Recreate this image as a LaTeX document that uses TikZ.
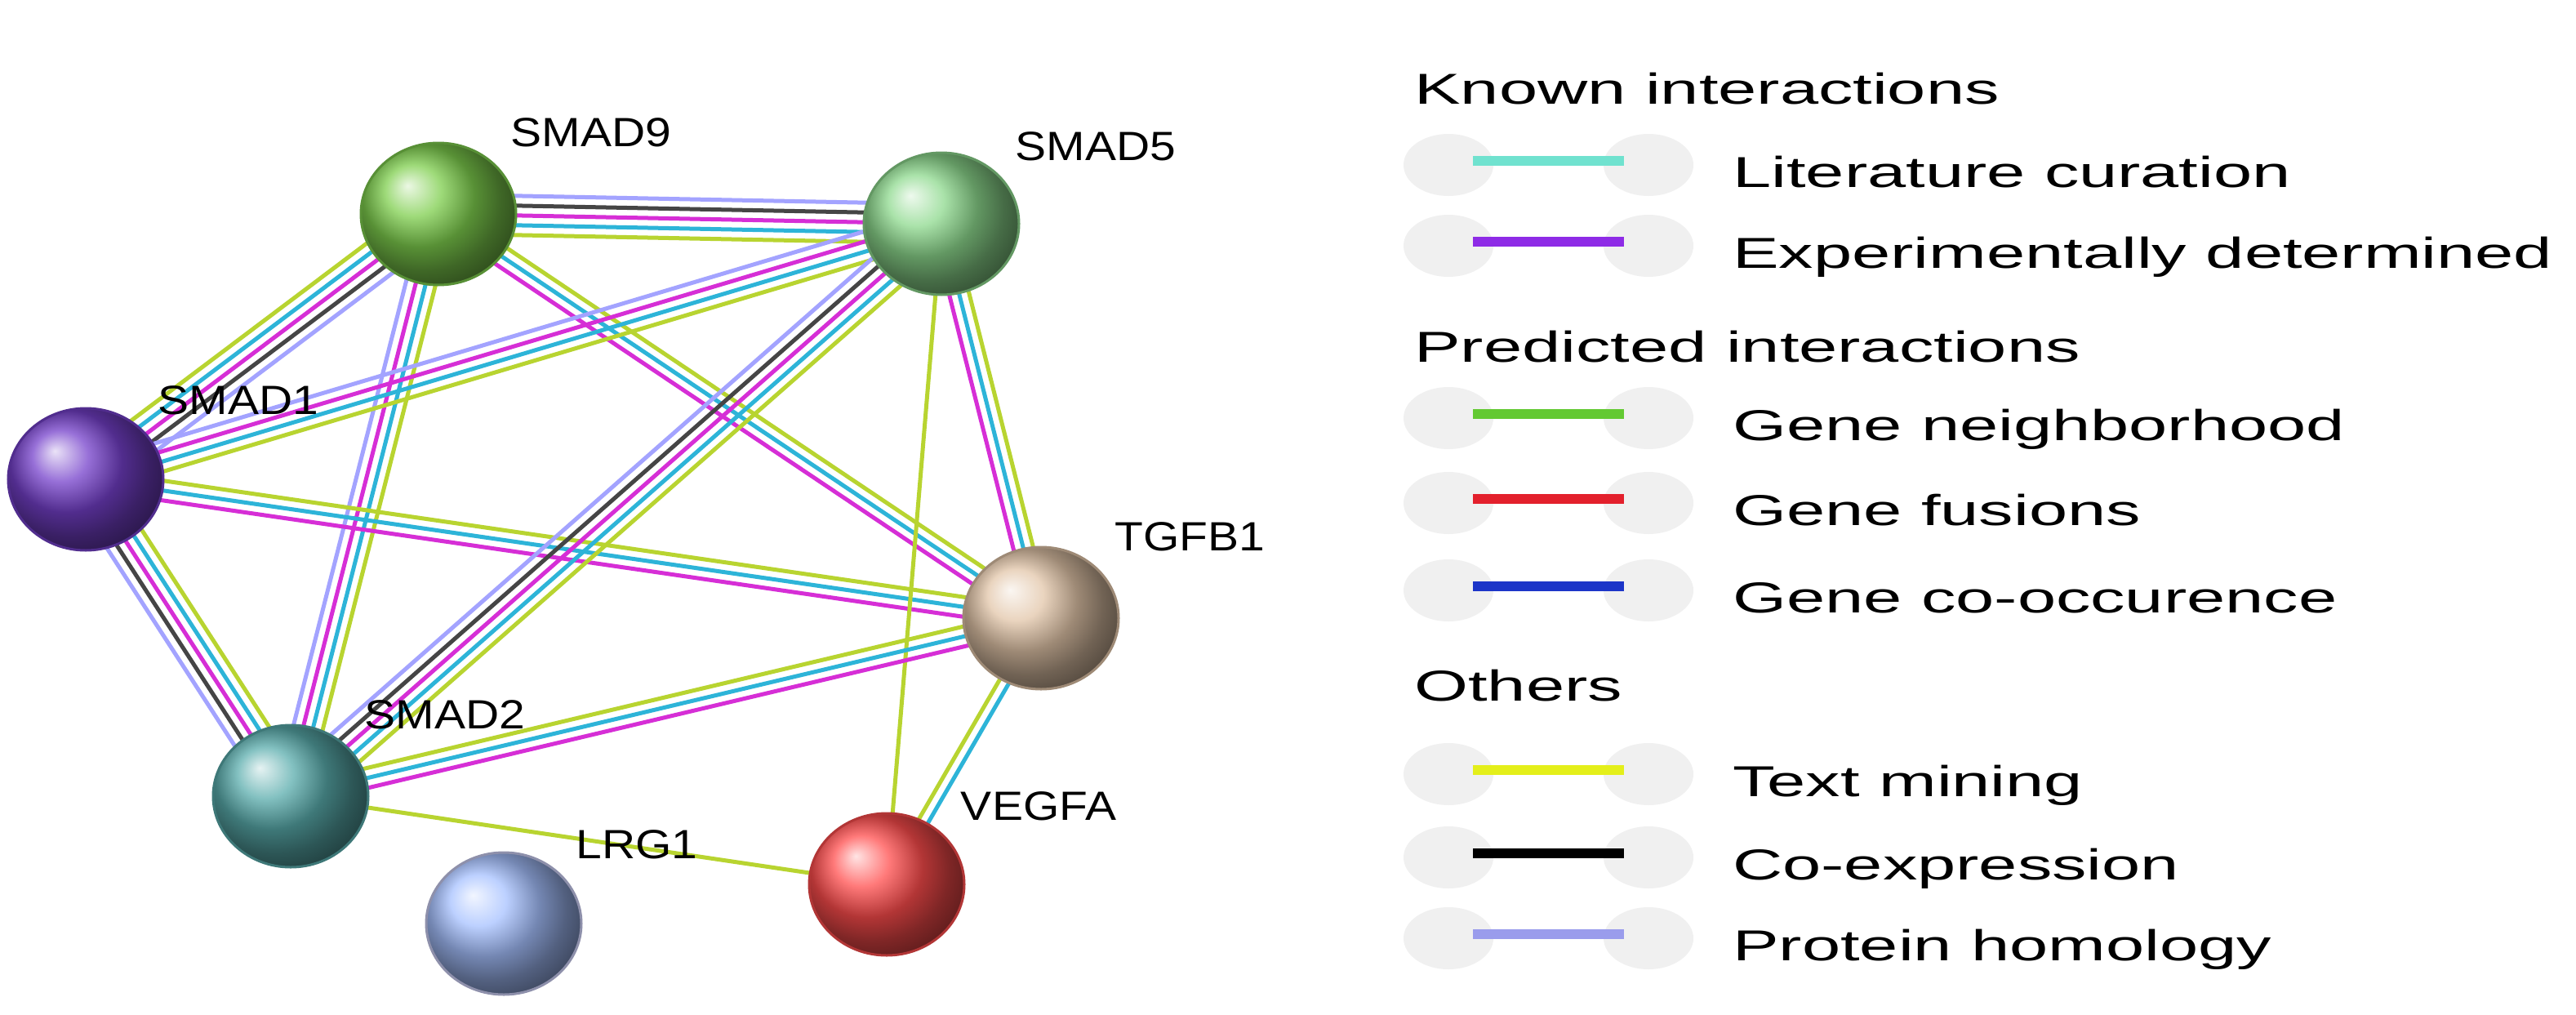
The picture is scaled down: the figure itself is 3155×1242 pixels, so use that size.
\documentclass[tikz,border=0pt]{standalone}
\usepackage{fontspec}
\setmainfont{Liberation Sans}
\usetikzlibrary{calc,shapes.geometric}
\definecolor{cyg}{HTML}{B8D430}
\definecolor{ccy}{HTML}{2DB4D8}
\definecolor{cmg}{HTML}{D62ED6}
\definecolor{cbk}{HTML}{454545}
\definecolor{clv}{HTML}{A3A3FF}
\definecolor{lgLit}{HTML}{70E2CF}
\definecolor{lgExp}{HTML}{8E2BE6}
\definecolor{lgNei}{HTML}{63C932}
\definecolor{lgFus}{HTML}{E3202C}
\definecolor{lgCoo}{HTML}{1C35C8}
\definecolor{lgTxt}{HTML}{E4EF1A}
\definecolor{lgCex}{HTML}{000000}
\definecolor{lgHom}{HTML}{9A9CEC}
\newcommand\myedge[4]{%
  \foreach \c [count=\i] in {#4} {%
    \pgfmathsetmacro\o{((#3+1)/2-\i)*12}%
    \draw[color=\c,line width=5pt] ($(#1)!\o pt!90:(#2)$) -- ($(#2)!\o pt!-90:(#1)$);
  }}
\tikzset{
  ball/.style={ellipse,minimum width=190pt,minimum height=174pt,inner sep=0pt,draw=#1!70!black,line width=3pt,ball color=#1},
  lab/.style={font=\fontsize{50}{60}\selectfont,xscale=1.14},
  leg/.style={font=\fontsize{53}{64}\selectfont,xscale=1.6,anchor=base west,inner sep=0pt},
  bub/.style={ellipse,minimum width=110pt,minimum height=76pt,fill=gray!12,draw=none},
}
\begin{document}
\begin{tikzpicture}[x=1pt,y=-1pt]
\useasboundingbox (0,0) rectangle (3155,1242);
\fill[white] (0,0) rectangle (3155,1242);
\coordinate (s9) at (537,262);
\coordinate (s5) at (1153,274);
\coordinate (s1) at (105,587);
\coordinate (tg) at (1275,757);
\coordinate (s2) at (356,975);
\coordinate (vg) at (1086,1083);
\coordinate (lr) at (617,1131);
% edges
\myedge{s9}{s5}{5}{clv,cbk,cmg,ccy,cyg}
\myedge{s1}{s9}{5}{cyg,ccy,cmg,cbk,clv}
\myedge{s2}{s9}{4}{clv,cmg,ccy,cyg}
\myedge{s9}{tg}{3}{cyg,ccy,cmg}
\myedge{s1}{s5}{4}{clv,cmg,ccy,cyg}
\myedge{s1}{tg}{3}{cyg,ccy,cmg}
\myedge{s2}{s1}{5}{clv,cbk,cmg,ccy,cyg}
\myedge{s2}{s5}{5}{clv,cbk,cmg,ccy,cyg}
\myedge{tg}{s5}{3}{cmg,ccy,cyg}
\myedge{s5}{vg}{1}{cyg}
\myedge{s2}{tg}{3}{cyg,ccy,cmg}
\myedge{s2}{vg}{1}{cyg}
\myedge{vg}{tg}{2}{cyg,ccy}
% nodes
\node[ball={green!45!olive!70!white}] (n9) at (s9) {};
\node[ball={green!35!white!85!black}] (n5) at (s5) {};
\node[ball={blue!45!violet!75!white}] (n1) at (s1) {};
\node[ball={brown!45!white}] (nt) at (tg) {};
\node[ball={teal!65!white}] (n2) at (s2) {};
\node[ball={red!70!white}] (nv) at (vg) {};
\node[ball={cyan!30!blue!35!white}] (nl) at (lr) {};
% labels
\node[lab] (l9) at (724,162) {SMAD9};
\node[lab] (l5) at (1342,179) {SMAD5};
\node[lab] (l1) at (292,490) {SMAD1};
\node[lab] (lt) at (1457,657) {TGFB1};
\node[lab] (l2) at (545,875) {SMAD2};
\node[lab] (ll) at (780,1034) {LRG1};
\node[lab] (lv) at (1272,987) {VEGFA};
% legend
\node[leg] (h1) at (1732,127) {Known interactions};
\node[leg] (h2) at (1732,443) {Predicted interactions};
\node[leg] (h3) at (1732,858) {Others};
\foreach \y/\c/\t [count=\k] in {229/lgLit/Literature curation,328/lgExp/Experimentally determined,539/lgNei/Gene neighborhood,643/lgFus/Gene fusions,750/lgCoo/Gene co-occurence,975/lgTxt/Text mining,1077/lgCex/Co-expression,1176/lgHom/Protein homology}{
  \node[bub] (bl\k) at (1774,\y-27) {};
  \node[bub] (br\k) at (2019,\y-27) {};
  \draw[color=\c,line width=12pt] (bl\k.east) ++(-25,-5) coordinate (a\k) -- ($(br\k.west)+(25,-5)$);
  \node[leg] (t\k) at (2122,\y) {\t};
}
\end{tikzpicture}
\end{document}
